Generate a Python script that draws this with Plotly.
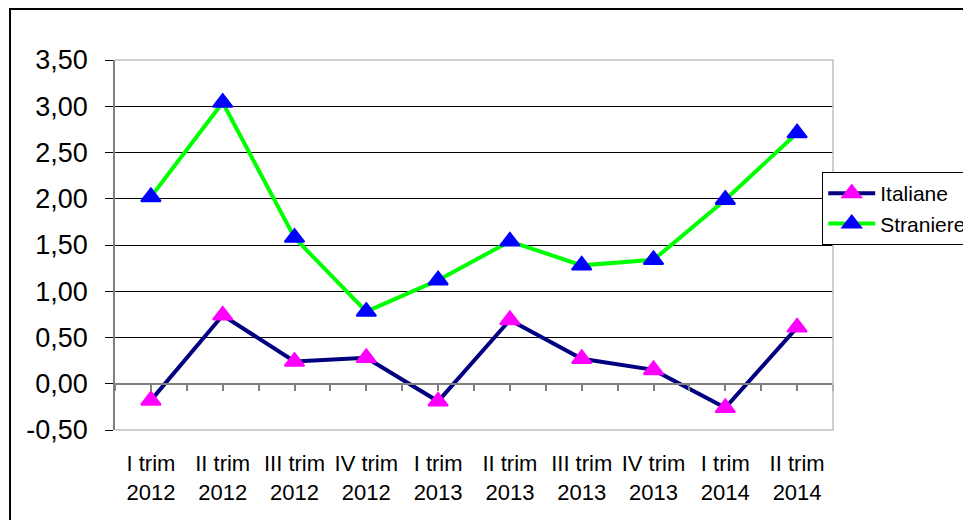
import plotly.graph_objects as go

categories = ["I trim<br>2012", "II trim<br>2012", "III trim<br>2012", "IV trim<br>2012",
              "I trim<br>2013", "II trim<br>2013", "III trim<br>2013", "IV trim<br>2013",
              "I trim<br>2014", "II trim<br>2014"]
italiane = [-0.18, 0.74, 0.24, 0.28, -0.19, 0.69, 0.27, 0.15, -0.26, 0.61]
straniere = [2.02, 3.04, 1.58, 0.78, 1.12, 1.54, 1.28, 1.34, 1.99, 2.71]
ytick_vals = [-0.5, 0.0, 0.5, 1.0, 1.5, 2.0, 2.5, 3.0, 3.5]
ytick_text = ["-0,50", "0,00", "0,50", "1,00", "1,50", "2,00", "2,50", "3,00", "3,50"]

FONT = "Liberation Sans, Arial, sans-serif"

fig = go.Figure()
fig.add_trace(go.Scatter(
    x=categories, y=italiane, name="Italiane", mode="lines+markers",
    line=dict(color="#000080", width=4),
    marker=dict(symbol="triangle-up", size=17, color="#FF00FF",
                line=dict(color="#FF00FF", width=2)),
))
fig.add_trace(go.Scatter(
    x=categories, y=straniere, name="Straniere", mode="lines+markers",
    line=dict(color="#00FF00", width=4),
    marker=dict(symbol="triangle-up", size=17, color="#0000FF",
                line=dict(color="#0000FF", width=2)),
))
# empty helper trace so the zero-line axis with tick marks is drawn
fig.add_trace(go.Scatter(x=[], y=[], xaxis="x2", showlegend=False, hoverinfo="skip"))

fig.update_layout(
    width=963, height=512,
    margin=dict(l=107, r=138, t=52, b=90, autoexpand=False),
    paper_bgcolor="white", plot_bgcolor="white",
    font=dict(family=FONT, color="black"),
    showlegend=True,
    legend=dict(x=0.985, y=0.697, xanchor="left", yanchor="top",
                bgcolor="white", bordercolor="#000000", borderwidth=1,
                font=dict(family=FONT, size=21, color="black"),
                tracegroupgap=0, itemwidth=47),
    xaxis=dict(type="category", showgrid=False, zeroline=False, showline=False,
               ticks="", tickfont=dict(family=FONT, size=22, color="black"),
               ticklabelstandoff=18, range=[-0.5, 9.5]),
    xaxis2=dict(overlaying="x", anchor="free", position=0.125, range=[-0.5, 9.5],
                tickmode="linear", tick0=-0.5, dtick=0.5, ticks="outside",
                ticklen=6, tickwidth=1.5, tickcolor="#808080",
                showline=True, linecolor="#808080", linewidth=2,
                showticklabels=False, showgrid=False, zeroline=False),
    yaxis=dict(range=[-0.5, 3.5], tickmode="array", tickvals=ytick_vals, ticktext=ytick_text,
               showgrid=True, gridcolor="#000000", gridwidth=1, zeroline=False,
               showline=True, linecolor="#808080", linewidth=1.5,
               ticks="outside", ticklen=8, tickcolor="#000000", tickwidth=1,
               ticklabelstandoff=12,
               tickfont=dict(family=FONT, size=27, color="black")),
    shapes=[
        dict(type="path", xref="paper", yref="paper", path="M0,1 L1,1 L1,0 L0,0",
             line=dict(color="#C0C0C0", width=1.5), layer="above"),
        dict(type="rect", xref="paper", yref="paper", x0=-0.1462, x1=1.3, y0=-0.5, y1=1.1378,
             line=dict(color="#000000", width=2), fillcolor="rgba(0,0,0,0)", layer="above"),
    ],
)

fig.write_html("out.html")
